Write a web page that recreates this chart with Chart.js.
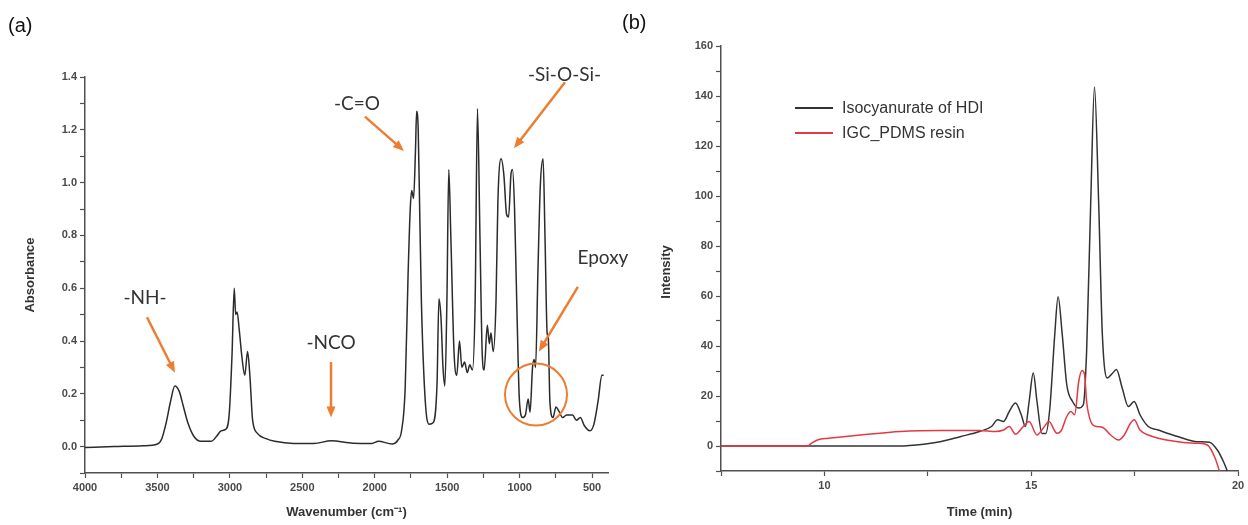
<!DOCTYPE html>
<html>
<head>
<meta charset="utf-8">
<script src="https://cdn.jsdelivr.net/npm/chart.js@4"></script>
<style>
  body { margin: 0; background: #fff; width: 1248px; height: 525px; overflow: hidden; position: relative; font-family: "Liberation Sans", Arial, sans-serif; }
  canvas { position: absolute; top: 0; }
  #ftir { left: 0; z-index: 1; }
  #gpc { left: 620px; z-index: 2; }
  .tag { position: absolute; font-size: 20px; color: #111; z-index: 3; line-height: 24px; }
</style>
</head>
<body>
<div class="tag" style="left:8px;top:13px">(a)</div>
<div class="tag" style="left:622px;top:10px">(b)</div>
<canvas id="ftir" width="650" height="525"></canvas>
<canvas id="gpc" width="628" height="525"></canvas>
<script>
// (a) FTIR spectrum
const wavenumber = [4000, 3800, 3600, 3500, 3470, 3440, 3410, 3380, 3350, 3320, 3290, 3250, 3200, 3130, 3090, 3060, 3030, 3005, 2985, 2970, 2960, 2950, 2935, 2915, 2897, 2878, 2862, 2843, 2810, 2750, 2690, 2560, 2420, 2300, 2150, 2020, 1975, 1880, 1840, 1815, 1790, 1770, 1755, 1745, 1732, 1719, 1711, 1700, 1690, 1678, 1651, 1624, 1597, 1570, 1557, 1543, 1529, 1516, 1502, 1489, 1475, 1453, 1434, 1415, 1399, 1380, 1361, 1344, 1326, 1307, 1291, 1274, 1258, 1245, 1223, 1209, 1198, 1182, 1163, 1150, 1128, 1109, 1090, 1076, 1060, 1049, 1035, 1020, 1001, 979, 960, 941, 928, 911, 900, 890, 873, 857, 838, 825, 810, 802, 791, 770, 749, 730, 703, 676, 635, 608, 581, 554, 514, 487, 459, 432, 420]
const absorbance = [-0.003, 0.0, 0.003, 0.01, 0.03, 0.09, 0.17, 0.23, 0.21, 0.15, 0.09, 0.04, 0.02, 0.02, 0.04, 0.06, 0.065, 0.12, 0.35, 0.60, 0.50, 0.51, 0.44, 0.33, 0.27, 0.36, 0.27, 0.10, 0.05, 0.03, 0.02, 0.012, 0.012, 0.022, 0.013, 0.012, 0.02, 0.01, 0.025, 0.06, 0.22, 0.65, 0.90, 0.97, 0.94, 1.12, 1.27, 1.2, 0.9, 0.55, 0.17, 0.085, 0.09, 0.24, 0.56, 0.49, 0.30, 0.23, 0.55, 1.05, 0.80, 0.36, 0.27, 0.40, 0.30, 0.32, 0.28, 0.31, 0.29, 0.55, 1.28, 0.80, 0.35, 0.29, 0.46, 0.39, 0.43, 0.36, 0.55, 0.93, 1.09, 1.03, 0.88, 0.87, 1.03, 1.05, 0.90, 0.55, 0.17, 0.11, 0.12, 0.18, 0.13, 0.30, 0.33, 0.30, 0.68, 0.99, 1.09, 0.80, 0.43, 0.41, 0.17, 0.11, 0.15, 0.135, 0.11, 0.12, 0.12, 0.10, 0.11, 0.08, 0.06, 0.085, 0.17, 0.27, 0.27]
const wavenumberTicks = [4000, 3750, 3500, 3250, 3000, 2750, 2500, 2250, 2000, 1750, 1500, 1250, 1000, 750, 500]

// (b) GPC traces
const timeHDI = [7.5, 11.8, 12.4, 12.8, 13.3, 13.75, 14.04, 14.19, 14.33, 14.47, 14.62, 14.76, 14.86, 14.95, 15.05, 15.14, 15.26, 15.35, 15.45, 15.57, 15.65, 15.75, 15.86, 16.0, 16.15, 16.26, 16.34, 16.44, 16.53, 16.63, 16.72, 16.84, 16.96, 17.06, 17.2, 17.35, 17.49, 17.63, 17.83, 18.07, 18.54, 19.02, 19.31, 19.5, 19.65, 19.74]
const intensityHDI = [0, 0, 0.7, 1.7, 3.8, 5.8, 7.8, 10.5, 9.8, 13.8, 17.2, 12.5, 7.8, 17.8, 29.2, 17.8, 5, 5, 15, 44.7, 59.7, 44.7, 24.5, 17.8, 15.2, 16.5, 38, 98, 143.6, 98, 44.7, 27.2, 29, 30.6, 23.2, 15.8, 17.8, 12.5, 7.8, 6.4, 3.8, 1.7, 1.5, -1.6, -6.3, -10]
const timeResin = [7.5, 9.59, 9.68, 9.83, 10.1, 10.88, 11.84, 12.8, 13.75, 14.14, 14.33, 14.47, 14.62, 14.81, 14.95, 15.14, 15.29, 15.43, 15.62, 15.72, 15.86, 15.96, 16.05, 16.15, 16.23, 16.29, 16.34, 16.44, 16.58, 16.72, 16.92, 17.11, 17.25, 17.4, 17.49, 17.63, 17.83, 18.54, 19.02, 19.26, 19.45, 19.55]
const intensityResin = [0, 0, 1, 2.4, 3.1, 4.4, 5.8, 6.2, 6.2, 5.8, 6.4, 7.8, 4.7, 7.8, 9.8, 4.4, 7.1, 9.8, 5.1, 6, 11.8, 13.8, 12.5, 25.9, 30.2, 28.6, 17.8, 9.8, 7.8, 7.5, 4.4, 2.4, 4.4, 9.1, 10.5, 6.4, 4.4, 1.7, 1.1, 0.4, -5, -10]
const seriesNames = ['Isocyanurate of HDI', 'IGC_PDMS resin']

const axisColor = '#505050'
const orange = '#ED7D31'

// band labels, anchored in data units
const bands = [
  { text: '-NH-', at: [3586, 0.564], from: [3572, 0.49], to: [3379, 0.28] },
  { text: '-NCO', at: [2302, 0.393], from: [2302, 0.32], to: [2302, 0.11] },
  { text: '-C=O', at: [2123, 1.30], from: [2068, 1.25], to: [1798, 1.12] },
  { text: '-Si-O-Si-', at: [690, 1.407], from: [687, 1.38], to: [1039, 1.13] },
  { text: 'Epoxy', at: [425, 0.715], from: [598, 0.605], to: [867, 0.36] }
]
const epoxyRing = [887, 0.197]

function pairs(xs, ys) {
  return xs.map((x, i) => ({ x: x, y: ys[i] }))
}

const bandPlugin = {
  id: 'bands',
  afterDatasetsDraw(chart) {
    const { ctx, scales: { x, y } } = chart
    ctx.save()
    ctx.strokeStyle = orange
    ctx.fillStyle = orange
    ctx.lineWidth = 2.5
    bands.forEach(b => {
      const x1 = x.getPixelForValue(b.from[0]), y1 = y.getPixelForValue(b.from[1])
      const x2 = x.getPixelForValue(b.to[0]), y2 = y.getPixelForValue(b.to[1])
      const ang = Math.atan2(y2 - y1, x2 - x1)
      ctx.beginPath()
      ctx.moveTo(x1, y1)
      ctx.lineTo(x2 - 8 * Math.cos(ang), y2 - 8 * Math.sin(ang))
      ctx.stroke()
      ctx.beginPath()
      ctx.moveTo(x2, y2)
      ctx.lineTo(x2 - 11 * Math.cos(ang) + 4.5 * Math.sin(ang), y2 - 11 * Math.sin(ang) - 4.5 * Math.cos(ang))
      ctx.lineTo(x2 - 11 * Math.cos(ang) - 4.5 * Math.sin(ang), y2 - 11 * Math.sin(ang) + 4.5 * Math.cos(ang))
      ctx.closePath()
      ctx.fill()
    })
    ctx.lineWidth = 2
    ctx.beginPath()
    ctx.arc(x.getPixelForValue(epoxyRing[0]), y.getPixelForValue(epoxyRing[1]), 31, 0, Math.PI * 2)
    ctx.stroke()
    ctx.fillStyle = '#333'
    ctx.font = '19px Lato, "Open Sans", sans-serif'
    ctx.textAlign = 'center'
    ctx.textBaseline = 'middle'
    bands.forEach(b => {
      ctx.fillText(b.text, x.getPixelForValue(b.at[0]), y.getPixelForValue(b.at[1]))
    })
    ctx.restore()
  }
}

const tickFont = { family: '"Liberation Sans", Arial, sans-serif', size: 11, weight: 'bold' }
const titleFont = { family: '"Liberation Sans", Arial, sans-serif', size: 13, weight: 'bold' }

function axisBase() {
  return {
    grid: { drawOnChartArea: false, drawTicks: true, tickLength: 5, color: axisColor, tickWidth: 1.2 },
    border: { display: true, color: axisColor, width: 1.5 },
    ticks: { color: '#4a4a4a', font: tickFont, maxRotation: 0, autoSkip: false }
  }
}

new Chart(document.getElementById('ftir'), {
  type: 'line',
  data: {
    datasets: [{
      data: pairs(wavenumber, absorbance),
      borderColor: '#2b2b2b',
      borderWidth: 1.5,
      pointRadius: 0,
      cubicInterpolationMode: 'monotone'
    }]
  },
  options: {
    responsive: false,
    animation: false,
    devicePixelRatio: 1,
    layout: { padding: { left: 0, top: 77, right: 42, bottom: 0 } },
    plugins: { legend: { display: false }, tooltip: { enabled: false } },
    scales: {
      x: Object.assign(axisBase(), {
        type: 'linear', reverse: true, min: 390, max: 4000,
        afterFit(s) { s.height = 52 },
        afterBuildTicks(s) { s.ticks = wavenumberTicks.map(v => ({ value: v })) },
        title: { display: true, text: 'Wavenumber (cm\u207B\u00B9)', color: '#333', font: titleFont, padding: { top: 0, bottom: 5 } }
      }),
      y: Object.assign(axisBase(), {
        min: -0.1, max: 1.4,
        afterFit(s) { s.width = 85 },
        title: { display: true, text: 'Absorbance', color: '#333', font: titleFont, padding: { top: 23, bottom: 0 } }
      })
    }
  },
  plugins: [bandPlugin]
})
const ftir = Chart.getChart('ftir')
ftir.options.scales.x.ticks.callback = v => (v % 500 === 0 ? String(v) : '')
ftir.options.scales.y.ticks.stepSize = 0.1
ftir.options.scales.y.ticks.callback = v => (Math.round(v * 10) % 2 === 0 && v >= 0 ? v.toFixed(1) : '')
ftir.update()

const legendPlugin = {
  id: 'inlegend',
  afterDraw(chart) {
    const { ctx } = chart
    ctx.save()
    ctx.font = '16px "Liberation Sans", Arial, sans-serif'
    ctx.textBaseline = 'middle'
    chart.data.datasets.forEach((ds, i) => {
      const yy = 108 + i * 25
      ctx.strokeStyle = ds.borderColor
      ctx.lineWidth = 2
      ctx.beginPath()
      ctx.moveTo(175, yy)
      ctx.lineTo(213, yy)
      ctx.stroke()
      ctx.fillStyle = '#333'
      ctx.fillText(ds.label, 222, yy + 1)
    })
    // y title, placed a little below the middle of the axis as in the original
    ctx.font = titleFont.weight + ' ' + titleFont.size + 'px ' + titleFont.family
    ctx.fillStyle = '#333'
    ctx.textAlign = 'center'
    ctx.translate(46, 272)
    ctx.rotate(-Math.PI / 2)
    ctx.fillText('Intensity', 0, 0)
    ctx.restore()
  }
}

new Chart(document.getElementById('gpc'), {
  type: 'line',
  data: {
    datasets: [{
      label: seriesNames[0],
      data: pairs(timeHDI, intensityHDI),
      borderColor: '#333333',
      borderWidth: 1.5,
      pointRadius: 0,
      cubicInterpolationMode: 'monotone',
      order: 1
    }, {
      label: seriesNames[1],
      data: pairs(timeResin, intensityResin),
      borderColor: '#e23a43',
      borderWidth: 1.5,
      pointRadius: 0,
      cubicInterpolationMode: 'monotone',
      order: 0
    }]
  },
  options: {
    responsive: false,
    animation: false,
    devicePixelRatio: 1,
    layout: { padding: { left: 0, top: 46, right: 10, bottom: 0 } },
    plugins: { legend: { display: false }, tooltip: { enabled: false } },
    scales: {
      x: Object.assign(axisBase(), {
        type: 'linear', min: 7.5, max: 20,
        afterFit(s) { s.height = 54 },
        title: { display: true, text: 'Time (min)', color: '#333', font: titleFont, padding: { top: 0, bottom: 5 } }
      }),
      y: Object.assign(axisBase(), {
        min: -10, max: 160,
        afterFit(s) { s.width = 101 }
      })
    }
  },
  plugins: [legendPlugin]
})
const gpc = Chart.getChart('gpc')
gpc.options.scales.x.ticks.stepSize = 2.5
gpc.options.scales.x.ticks.callback = v => (v % 5 === 0 ? String(v) : '')
gpc.options.scales.y.ticks.stepSize = 10
gpc.options.scales.y.ticks.callback = v => (v % 20 === 0 && v >= 0 ? String(v) : '')
gpc.update()
</script>
</body>
</html>
